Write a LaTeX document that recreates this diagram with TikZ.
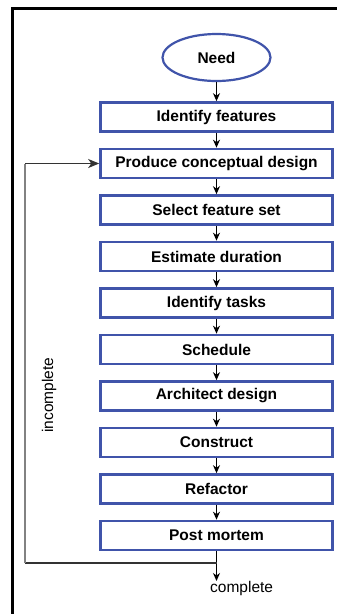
\documentclass[tikz,border=0pt]{standalone}
\usepackage{fontspec}
\setmainfont{Liberation Sans}
\usetikzlibrary{arrows.meta,shapes.geometric}
\definecolor{boxblue}{RGB}{64,84,170}
\definecolor{loopgray}{RGB}{130,130,130}
\tikzset{
  stepbox/.style={draw=boxblue,line width=2.6pt,fill=white,minimum width=232pt,minimum height=29pt,inner sep=0pt,font=\fontsize{15.5}{18}\selectfont\bfseries},
  startnode/.style={draw=boxblue,line width=2.2pt,fill=white,ellipse,minimum width=108pt,minimum height=47pt,inner sep=0pt,font=\fontsize{15.5}{18}\selectfont\bfseries},
  flow/.style={draw=black,line width=1.2pt,-{Stealth[length=8pt,width=7pt,inset=2.5pt]}},
  loopline/.style={line width=1.2pt},
  lbl/.style={font=\fontsize{15.5}{18}\selectfont,inner sep=0pt}
}
\begin{document}
\begin{tikzpicture}[x=1pt,y=-1pt]
\useasboundingbox (0,0) rectangle (337,614);
\fill[white] (0,0) rectangle (337,614);
% frame (cut off at right and bottom)
\draw[line width=3pt] (12,614) -- (12,8) -- (337,8);
\node[startnode] (need) at (216.5,57.5) {Need};
\node[stepbox] (n1) at (216.5,117) {Identify features};
\node[stepbox] (n2) at (216.5,163.5) {Produce conceptual design};
\node[stepbox] (n3) at (216.5,210) {Select feature set};
\node[stepbox] (n4) at (216.5,256.5) {Estimate duration};
\node[stepbox] (n5) at (216.5,303) {Identify tasks};
\node[stepbox] (n6) at (216.5,349.5) {Schedule};
\node[stepbox] (n7) at (216.5,396) {Architect design};
\node[stepbox] (n8) at (216.5,442.5) {Construct};
\node[stepbox] (n9) at (216.5,489) {Refactor};
\node[stepbox] (n10) at (216.5,535.5) {Post mortem};
\draw[flow] (need) -- (n1);
\draw[flow] (n1) -- (n2);
\draw[flow] (n2) -- (n3);
\draw[flow] (n3) -- (n4);
\draw[flow] (n4) -- (n5);
\draw[flow] (n5) -- (n6);
\draw[flow] (n6) -- (n7);
\draw[flow] (n7) -- (n8);
\draw[flow] (n8) -- (n9);
\draw[flow] (n9) -- (n10);
\coordinate (split) at (216.5,563);
\coordinate (lb) at (25,563);
\coordinate (lt) at (25,163.5);
\coordinate (done) at (216.5,581);
\draw[flow] (n10.south) -- (done);
\draw[loopline,draw=black!80] (split) -- (lb);
\draw[loopline,draw=loopgray] (lb) -- (lt);
\draw[loopline,draw=black!80,-{Stealth[length=11pt,width=9pt,inset=3pt]}] (lt) -- (n2.west);
\node[lbl,rotate=90,anchor=base] (inc) at (53,395) {incomplete};
\node[lbl,anchor=base west] (comp) at (210,592) {complete};
\end{tikzpicture}
\end{document}
